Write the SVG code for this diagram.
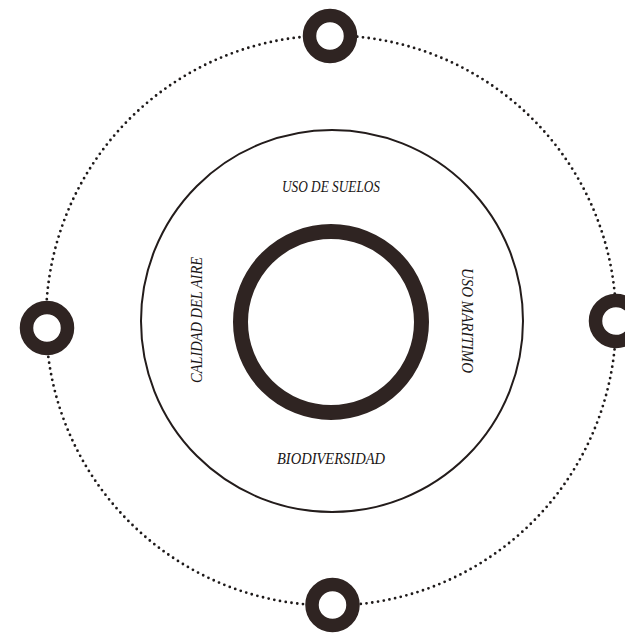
<svg xmlns="http://www.w3.org/2000/svg" width="625" height="634" viewBox="0 0 625 634">
  <style>
    .ring { fill: #ffffff; stroke: #2f2422; stroke-width: 13.5; }
    .core { fill: none; stroke: #2f2422; stroke-width: 15; }
    .thin { fill: none; stroke: #231c1b; stroke-width: 2; }
    .dots { fill: none; stroke: #1e1a1a; stroke-width: 2.8; stroke-linecap: round; stroke-dasharray: 0 5.8; }
    .lbl { font-family: "Liberation Serif", "DejaVu Serif", "Times New Roman", serif; font-style: italic; font-size: 16.5px; fill: #1a1616; text-anchor: middle; }
  </style>
  <rect x="0" y="0" width="625" height="634" fill="#ffffff"/>

  <g id="connectors">
    <circle class="dots" cx="331" cy="320.5" r="285"/>
  </g>

  <g id="thin-circle">
    <circle class="thin" cx="332" cy="321" r="191"/>
  </g>

  <g id="core">
    <circle class="core" cx="331" cy="322" r="90.5"/>
  </g>

  <g id="node-top">
    <circle class="ring" cx="330" cy="36" r="20.5"/>
  </g>
  <g id="node-left">
    <circle class="ring" cx="47" cy="328" r="20.5"/>
  </g>
  <g id="node-right">
    <circle class="ring" cx="616" cy="321" r="20.5"/>
  </g>
  <g id="node-bottom">
    <circle class="ring" cx="332.5" cy="605" r="20.5"/>
  </g>

  <g id="label-uso-suelos">
    <text class="lbl" x="331" y="192" textLength="98" lengthAdjust="spacingAndGlyphs">USO DE SUELOS</text>
  </g>
  <g id="label-calidad-aire">
    <text class="lbl" transform="translate(202 320) rotate(-90)" x="0" y="0" textLength="126" lengthAdjust="spacingAndGlyphs">CALIDAD DEL AIRE</text>
  </g>
  <g id="label-uso-maritimo">
    <text class="lbl" transform="translate(462 320.5) rotate(90)" x="0" y="0" textLength="105" lengthAdjust="spacingAndGlyphs">USO MARITIMO</text>
  </g>
  <g id="label-biodiversidad">
    <text class="lbl" x="331" y="464" textLength="108" lengthAdjust="spacingAndGlyphs">BIODIVERSIDAD</text>
  </g>
</svg>
